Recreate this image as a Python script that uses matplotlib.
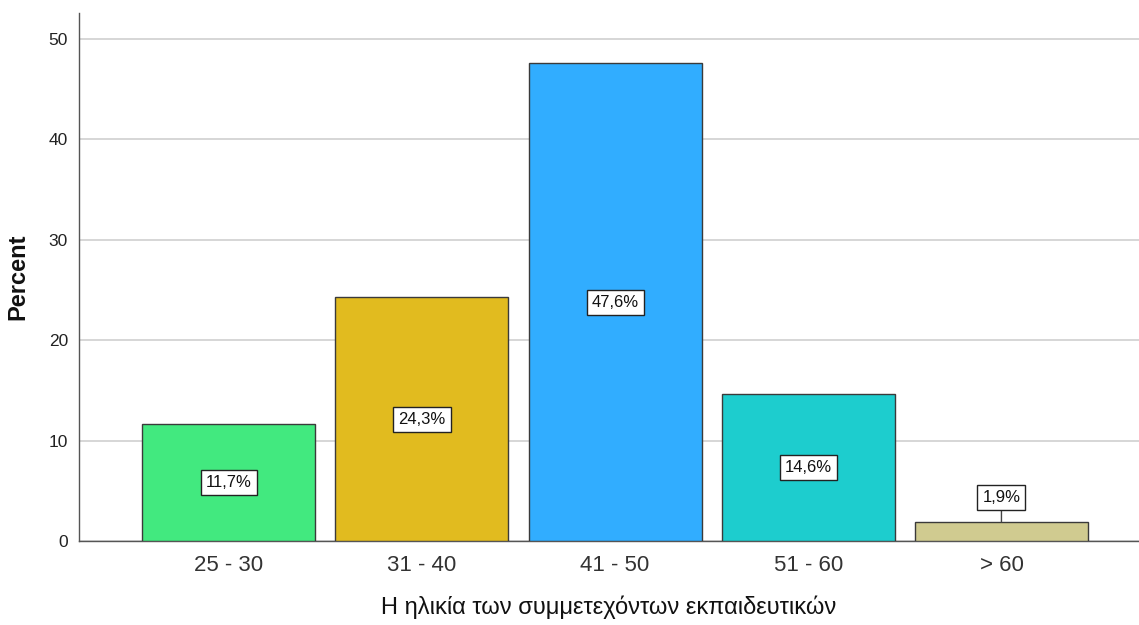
import matplotlib
matplotlib.use("Agg")
import matplotlib.pyplot as plt

plt.rcParams['font.family'] = ['Liberation Sans', 'DejaVu Sans']

categories = ["25 - 30", "31 - 40", "41 - 50", "51 - 60", "> 60"]
percents = [11.7, 24.3, 47.6, 14.6, 1.9]
labels = ["11,7%", "24,3%", "47,6%", "14,6%", "1,9%"]
colors = ["#42E97F", "#E1BB1F", "#31ADFF", "#1DCDCE", "#D0CB90"]
yticks = [0, 10, 20, 30, 40, 50]

fig = plt.figure(figsize=(11.39, 6.25), dpi=100)
ax = fig.add_axes([79/1139, 1-541/625, 1-79/1139, (541-13)/625])

x = list(range(len(categories)))
ax.bar(x, percents, width=0.896, color=colors, edgecolor="#3a3a3a", linewidth=1.0, zorder=3)

ax.set_xlim(-0.775, 4.712)
ax.set_ylim(0, 52.6)
ax.set_yticks(yticks)
ax.set_yticklabels([str(t) for t in yticks], fontsize=12.5, color="#222222")
ax.set_xticks(x)
ax.set_xticklabels(categories, fontsize=16, color="#333333")
ax.tick_params(axis='both', length=0)
ax.tick_params(axis='x', pad=10)
ax.tick_params(axis='y', pad=8)
ax.grid(axis='y', color="#d0d0d0", linewidth=1.2, zorder=0)
for s in ["top", "right"]:
    ax.spines[s].set_visible(False)
for s in ["left", "bottom"]:
    ax.spines[s].set_color("#555555")
    ax.spines[s].set_linewidth(1.0)

box = dict(boxstyle="square,pad=0.3", facecolor="white", edgecolor="#222222", linewidth=1.0)
for i, (v, lab) in enumerate(zip(percents, labels)):
    if v > 5:
        ax.text(i, v/2, lab, ha="center", va="center", fontsize=12, color="#111111", bbox=box, zorder=5)
    else:
        ax.annotate(lab, xy=(i, v), xytext=(i, v + 2.4), ha="center", va="center", fontsize=12,
                    color="#111111", bbox=box, zorder=5,
                    arrowprops=dict(arrowstyle="-", color="#444444", linewidth=1.0, shrinkA=0, shrinkB=0))

ax.set_xlabel("Η ηλικία των συμμετεχόντων εκπαιδευτικών", fontsize=17, color="#111111", labelpad=14)
ax.set_ylabel("Percent", fontsize=17, fontweight="bold", color="#111111", labelpad=14)

fig.savefig("out.png", dpi=100)
